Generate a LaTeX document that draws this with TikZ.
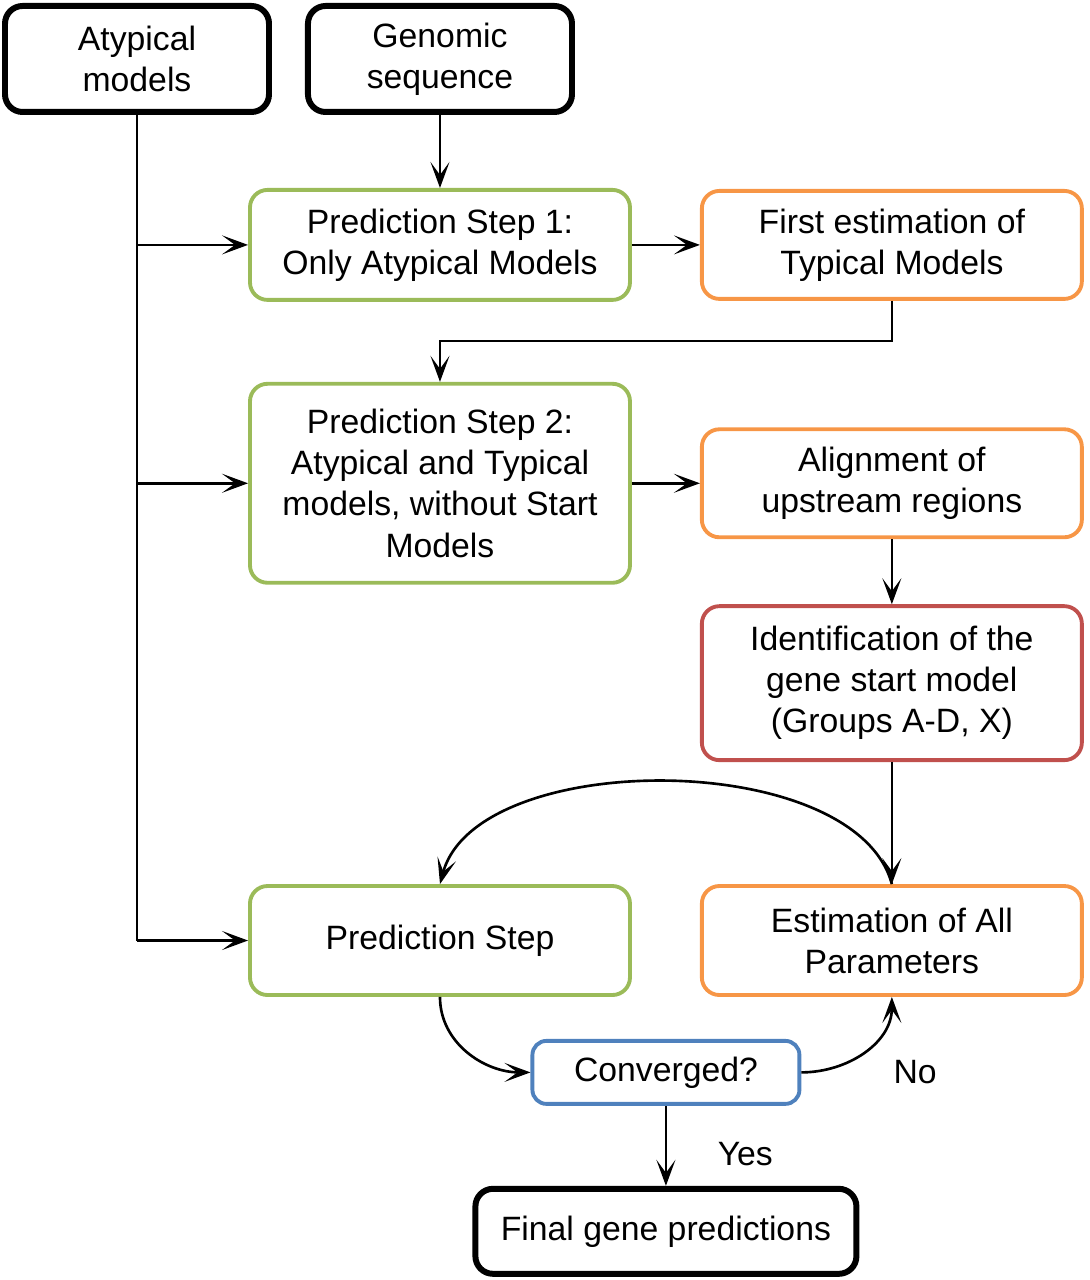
\documentclass[tikz,border=0pt]{standalone}
\usepackage{fontspec}
\setmainfont{Liberation Sans}
\usepackage{tikz}
\usetikzlibrary{arrows.meta, positioning, calc}
\definecolor{offgreen}{HTML}{9BBB59}
\definecolor{offorange}{HTML}{F79646}
\definecolor{offred}{HTML}{C0504D}
\definecolor{offblue}{HTML}{4F81BD}
\tikzset{every node/.append style={align=center, inner sep=3pt}}

\begin{document}
\begin{tikzpicture}[font=\fontsize{9.6}{11.7}\selectfont,
    inp/.style={rectangle, rounded corners=5pt, draw=black, line width=1.7pt, minimum width=2.64cm, minimum height=1.06cm},
    pred/.style={rectangle, rounded corners=5pt, draw=offgreen, line width=1.1pt, minimum width=3.80cm, minimum height=1.10cm},
    est/.style={rectangle, rounded corners=5pt, draw=offorange, line width=1.1pt, minimum width=3.80cm, minimum height=1.08cm},
    idf/.style={rectangle, rounded corners=5pt, draw=offred, line width=1.1pt, minimum width=3.80cm, minimum height=1.54cm},
    chk/.style={rectangle, rounded corners=4pt, draw=offblue, line width=1.1pt, minimum width=2.67cm, minimum height=0.63cm},
    a/.style={-{Stealth[length=2.6mm, width=1.9mm, inset=1.3mm]}, line width=0.75pt}]
\useasboundingbox (0,0) rectangle (10.89,-12.80);
\node[inp] (atyp) at (1.37,-0.59) {Atypical\\models};
\node[inp, right=0.33cm of atyp] (gen) {Genomic\\sequence};
\node[pred, below=0.73cm of gen] (pred1) {Prediction Step 1:\\Only Atypical Models};
\node[est, right=0.68cm of pred1] (est1) {First estimation of\\Typical Models};
\node[pred, below=0.80cm of pred1, minimum height=1.99cm] (pred2) {Prediction Step 2:\\Atypical and Typical\\models, without Start\\Models};
\node[est, right=0.68cm of pred2] (align) {Alignment of\\upstream regions};
\node[idf, below=0.65cm of align] (ident) {Identification of the\\gene start model\\(Groups A-D, X)};
\node[est, below=1.22cm of ident, minimum height=1.09cm] (estall) {Estimation of All\\Parameters};
\node[pred, left=0.68cm of estall, minimum height=1.09cm] (predS) {Prediction Step};
\node[chk, below=0.42cm of $(predS.south)!0.5!(estall.south)$] (conv) {Converged?};
\node[inp, below=0.80cm of conv, minimum width=3.81cm, minimum height=0.85cm] (final) {Final gene predictions};
\node[right=0.81cm of conv.east] (no) {No};
% atypical models feed every prediction step
\draw[line width=0.75pt] (atyp.south) -- (atyp.south |- predS.west);
\draw[a] (atyp.south |- pred1.west) -- (pred1.west);
\draw[a] (atyp.south |- pred2.west) -- (pred2.west);
\draw[a] (atyp.south |- predS.west) -- (predS.west);
\draw[a] (gen) -- (pred1);
\draw[a] (pred1) -- (est1);
\draw[a] (est1.south) -- ++(0,-0.40) -| (pred2.north);
\draw[a] (pred2) -- (align);
\draw[a] (align) -- (ident);
\draw[a] (ident) -- (estall);
% iteration loop
\draw[a] (estall.north) to[out=105, in=75, looseness=0.8] (predS.north);
\draw[a] (predS.south) to[out=-90, in=180] (conv.west);
\draw[a] (conv.east) to[out=0, in=-90] (estall.south);
\draw[a] (conv) -- node[right=0.40cm, pos=0.6] (yes) {Yes} (final);
\end{tikzpicture}
\end{document}
